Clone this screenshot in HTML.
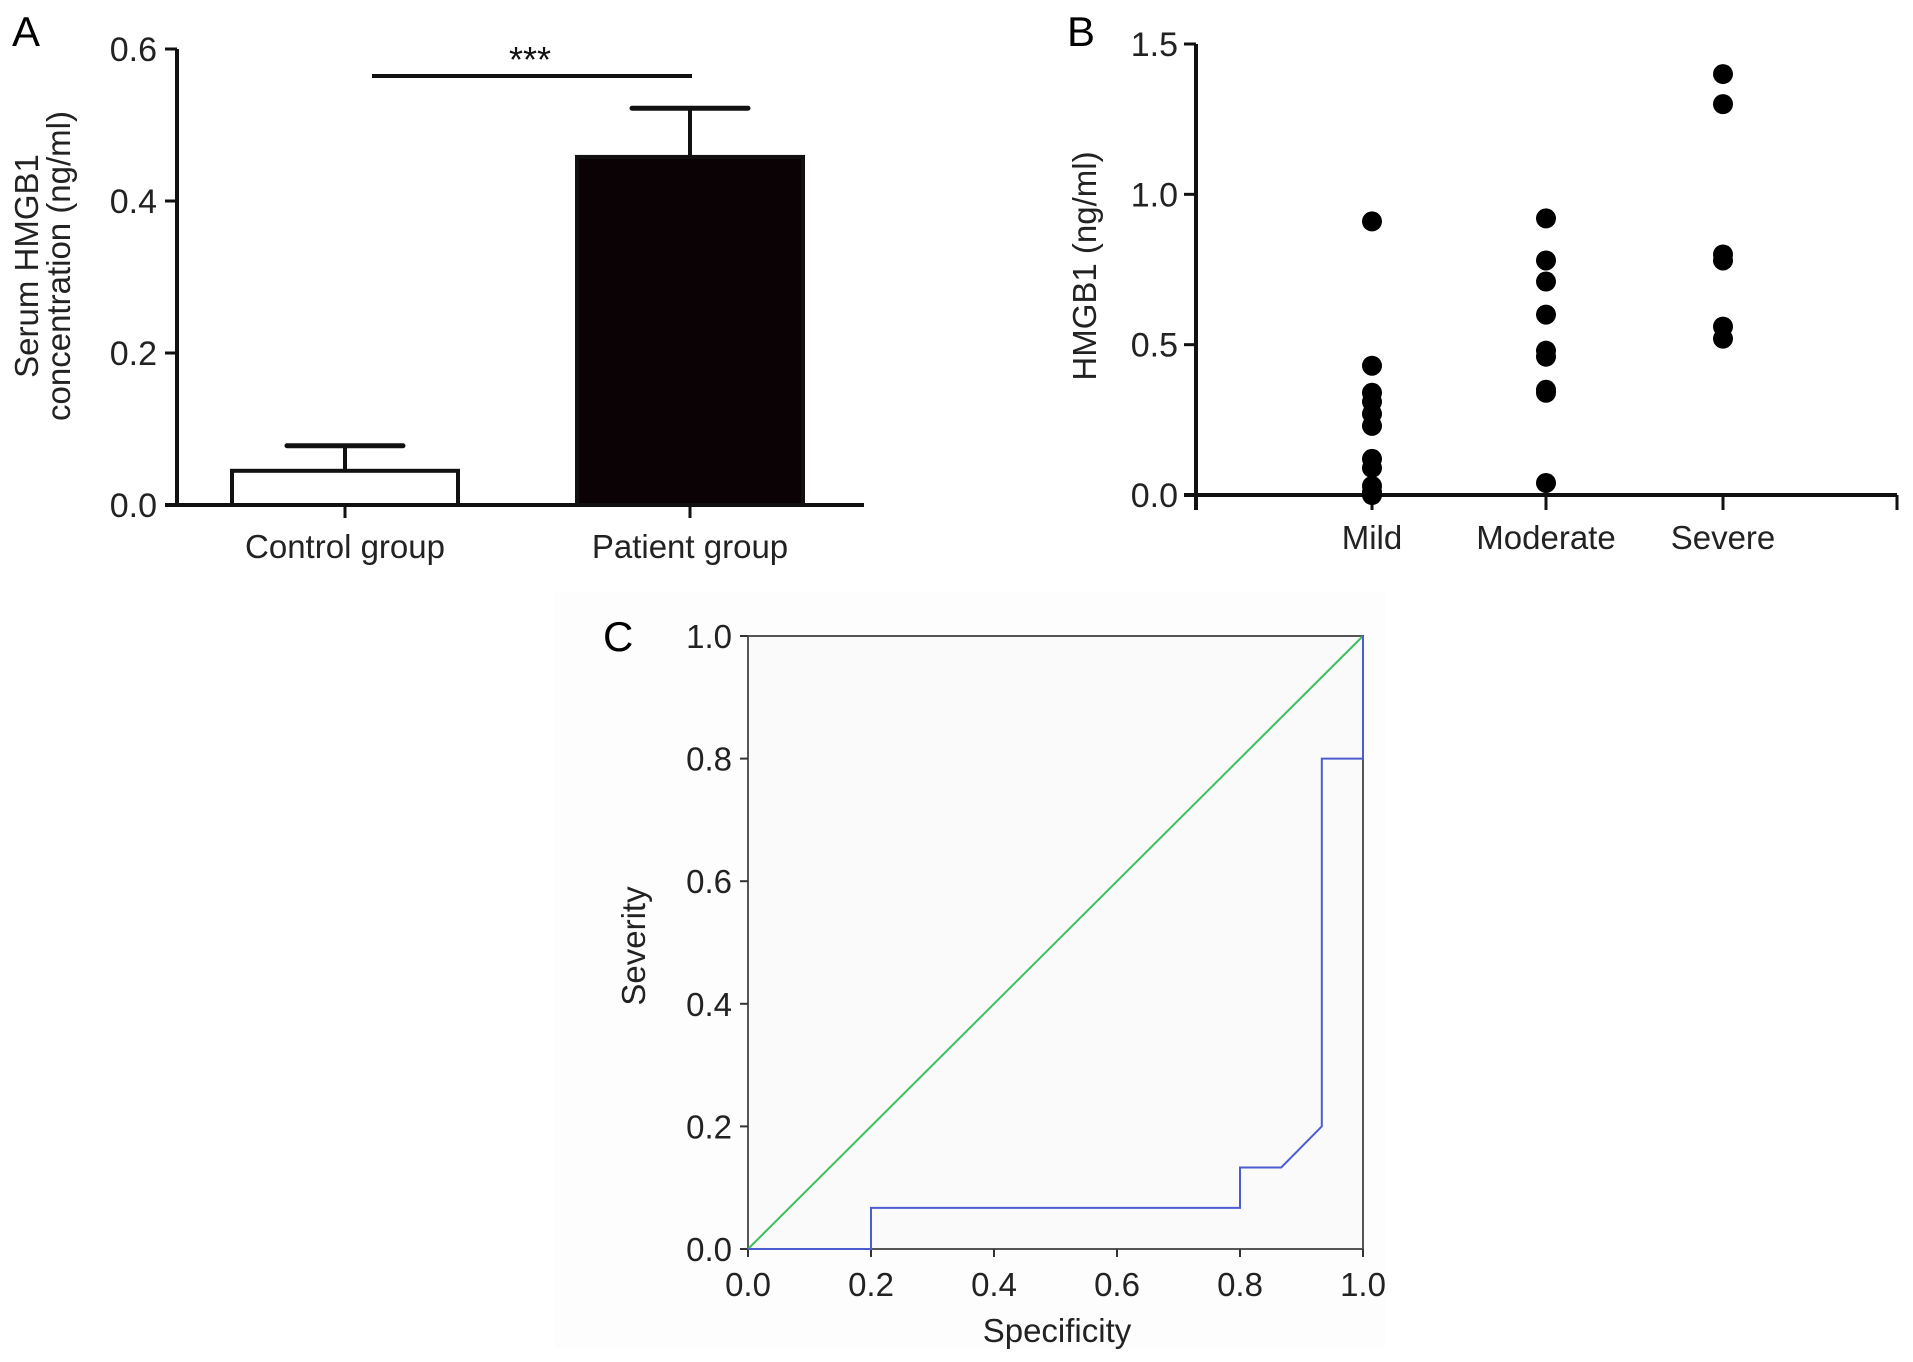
<!DOCTYPE html>
<html><head><meta charset="utf-8"><style>
html,body{margin:0;padding:0;background:#fff;}
svg{display:block;font-family:"Liberation Sans",Arial,sans-serif;}
</style></head><body>
<svg id="fig" width="1913" height="1362" viewBox="0 0 1913 1362">
<rect x="555" y="592" width="830" height="756" fill="#fdfdfd"/>
<g id="pa"></g>
<g id="pb"></g>
<g id="pc"></g>
</svg>
<script>
// Panel A data
const aCategories = ["Control group", "Patient group"];
const aMeans = [0.045, 0.458];
const aErrors = [0.033, 0.064];
const aTicks = [0.0, 0.2, 0.4, 0.6];
// Panel B data
const bCategories = ["Mild", "Moderate", "Severe"];
const bMild = [0.91, 0.43, 0.34, 0.31, 0.27, 0.23, 0.12, 0.09, 0.03, 0.01, 0.0];
const bModerate = [0.92, 0.78, 0.71, 0.60, 0.48, 0.46, 0.35, 0.34, 0.04];
const bSevere = [1.40, 1.30, 0.80, 0.78, 0.56, 0.52];
const bTicks = [0.0, 0.5, 1.0, 1.5];
// Panel C data
const rocX = [0, 0.2, 0.2, 0.8, 0.8, 0.867, 0.933, 0.933, 1, 1];
const rocY = [0, 0, 0.067, 0.067, 0.133, 0.133, 0.2, 0.8, 0.8, 1];
const refX = [0, 1];
const refY = [0, 1];
const cTicks = [0.0, 0.2, 0.4, 0.6, 0.8, 1.0];

const NS = "http://www.w3.org/2000/svg";
function mk(parent, tag, attrs, text) {
  const e = document.createElementNS(NS, tag);
  for (const k in attrs) e.setAttribute(k, attrs[k]);
  if (text !== undefined) e.textContent = text;
  parent.appendChild(e);
  return e;
}
let e;
// ---------- Panel A ----------
const pa = document.getElementById("pa");
const ayA = v => 505 - v / 0.6 * (505 - 49);
const axA = i => [345, 690][i];
e = mk(pa, "text", {x: 12, y: 46, "font-size": 42}, "A");


e = mk(pa, "line", {x1: 177, y1: 49, x2: 177, y2: 505, stroke: "#111", "stroke-width": 4});


e = mk(pa, "line", {x1: 165, y1: 505, x2: 864, y2: 505, stroke: "#111", "stroke-width": 4});


aTicks.forEach(t => {
  e = mk(pa, "line", {x1: 165, y1: ayA(t), x2: 177, y2: ayA(t), stroke: "#111", "stroke-width": 3});
  
  
  e = mk(pa, "text", {x: 157, y: ayA(t) + 12, "font-size": 34, "text-anchor": "end", fill: "#222"}, t.toFixed(1));
  
  
});
aCategories.forEach((c, i) => {
  const cx = axA(i), w = 230;
  e = mk(pa, "rect", {x: cx - w / 2 + 2, y: ayA(aMeans[i]), width: w - 4, height: 505 - ayA(aMeans[i]), fill: i ? "#0a0204" : "#fff", stroke: "#111", "stroke-width": 4});
  
  
  const top = ayA(aMeans[i] + aErrors[i]);
  e = mk(pa, "line", {x1: cx, y1: ayA(aMeans[i]), x2: cx, y2: top, stroke: "#111", "stroke-width": 4});
  
  
  e = mk(pa, "line", {x1: cx - 58, y1: top, x2: cx + 58, y2: top, stroke: "#111", "stroke-width": 5, "stroke-linecap": "round"});
  
  
  e = mk(pa, "line", {x1: cx, y1: 505, x2: cx, y2: 518, stroke: "#111", "stroke-width": 3});
  
  
  e = mk(pa, "text", {x: cx, y: 558, "font-size": 33, "text-anchor": "middle", fill: "#222"}, c);
  
  
});
e = mk(pa, "line", {x1: 372, y1: 76, x2: 692, y2: 76, stroke: "#111", "stroke-width": 4});


e = mk(pa, "text", {x: 530, y: 72, "font-size": 36, "text-anchor": "middle", fill: "#111"}, "***");


e = mk(pa, "text", {transform: "translate(38,266) rotate(-90)", "font-size": 33, "text-anchor": "middle", fill: "#222"}, "Serum HMGB1");


e = mk(pa, "text", {transform: "translate(70,266) rotate(-90)", "font-size": 33, "text-anchor": "middle", fill: "#222"}, "concentration (ng/ml)");



// ---------- Panel B ----------
const pb = document.getElementById("pb");
const ayB = v => 495 - v / 1.5 * (495 - 44);
const axB = i => [1372, 1546, 1723][i];
e = mk(pb, "text", {x: 1067, y: 46, "font-size": 42}, "B");


e = mk(pb, "line", {x1: 1196, y1: 44, x2: 1196, y2: 510, stroke: "#111", "stroke-width": 4});


e = mk(pb, "line", {x1: 1184, y1: 495, x2: 1897, y2: 495, stroke: "#111", "stroke-width": 4});


e = mk(pb, "line", {x1: 1897, y1: 495, x2: 1897, y2: 510, stroke: "#111", "stroke-width": 3});


bTicks.forEach(t => {
  e = mk(pb, "line", {x1: 1184, y1: ayB(t), x2: 1196, y2: ayB(t), stroke: "#111", "stroke-width": 3});
  
  
  e = mk(pb, "text", {x: 1178, y: ayB(t) + 12, "font-size": 34, "text-anchor": "end", fill: "#222"}, t.toFixed(1));
  
  
});
[bMild, bModerate, bSevere].forEach((arr, i) => {
  const cx = axB(i);
  e = mk(pb, "line", {x1: cx, y1: 495, x2: cx, y2: 510, stroke: "#111", "stroke-width": 3});
  
  
  e = mk(pb, "text", {x: cx, y: 549, "font-size": 33, "text-anchor": "middle", fill: "#222"}, bCategories[i]);
  
  
  arr.forEach(v => {
    e = mk(pb, "circle", {cx: cx, cy: ayB(v), r: 10, fill: "#000"});
    
    
  });
});
e = mk(pb, "text", {transform: "translate(1096,266) rotate(-90)", "font-size": 33, "text-anchor": "middle", fill: "#222"}, "HMGB1 (ng/ml)");



// ---------- Panel C ----------
const pc = document.getElementById("pc");
const L = 748, R = 1363, T = 636, B = 1249;
const cxs = v => L + v * (R - L);
const cys = v => B - v * (B - T);
e = mk(pc, "rect", {x: L, y: T, width: R - L, height: B - T, fill: "#fafafa", stroke: "#555", "stroke-width": 2});


e = mk(pc, "text", {x: 603, y: 651, "font-size": 42}, "C");


cTicks.forEach(t => {
  e = mk(pc, "line", {x1: L - 8, y1: cys(t), x2: L, y2: cys(t), stroke: "#333", "stroke-width": 2});
  
  
  e = mk(pc, "text", {x: 732, y: cys(t) + 12, "font-size": 33, "text-anchor": "end", fill: "#222"}, t.toFixed(1));
  
  
  e = mk(pc, "line", {x1: cxs(t), y1: B, x2: cxs(t), y2: B + 8, stroke: "#333", "stroke-width": 2});
  
  
  e = mk(pc, "text", {x: cxs(t), y: 1296, "font-size": 33, "text-anchor": "middle", fill: "#222"}, t.toFixed(1));
  
  
});
e = mk(pc, "polyline", {points: refX.map((x, i) => cxs(x) + "," + cys(refY[i])).join(" "), fill: "none", stroke: "#3cc060", "stroke-width": 2});


e = mk(pc, "polyline", {points: rocX.map((x, i) => cxs(x) + "," + cys(rocY[i])).join(" "), fill: "none", stroke: "#4a5cd0", "stroke-width": 2});


e = mk(pc, "text", {transform: "translate(645,946) rotate(-90)", "font-size": 33, "text-anchor": "middle", fill: "#222"}, "Severity");


e = mk(pc, "text", {x: 1057, y: 1342, "font-size": 33, "text-anchor": "middle", fill: "#222"}, "Specificity");


</script>
</body></html>
